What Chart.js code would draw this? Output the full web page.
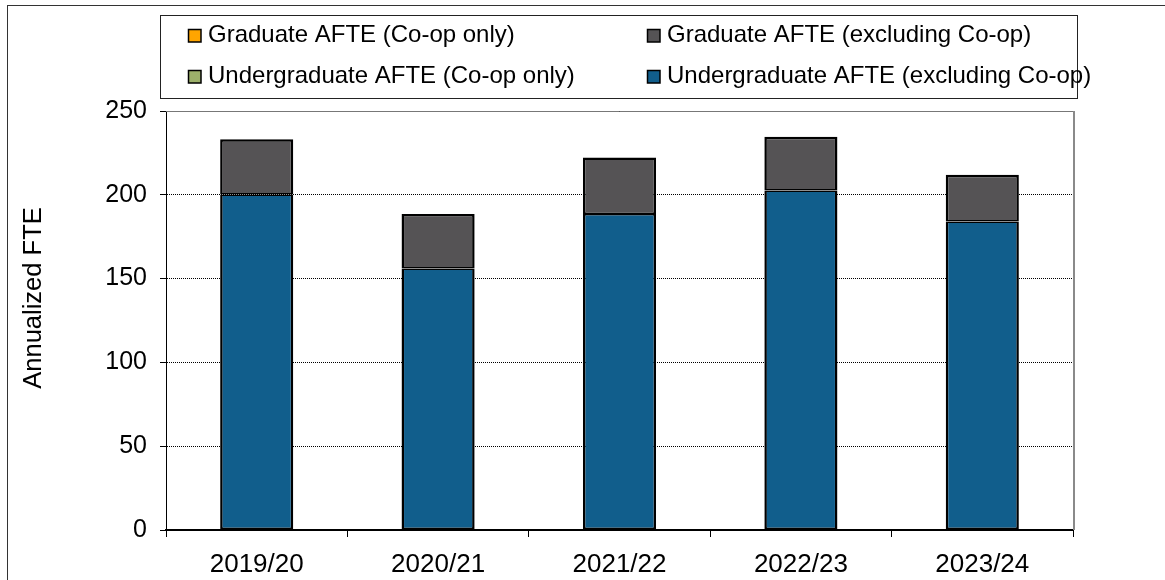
<!DOCTYPE html>
<html><head><meta charset="utf-8">
<script src="https://cdn.jsdelivr.net/npm/chart.js@4/dist/chart.umd.min.js"></script>
<style>html,body{margin:0;padding:0;background:#fff;}canvas{display:block;}</style>
</head><body>
<canvas id="c" width="1165" height="580"></canvas>
<script>
const categories = ['2019/20', '2020/21', '2021/22', '2022/23', '2023/24'];
const undergradExclCoop = [200.2, 156.0, 188.5, 202.6, 184.1];
const undergradCoopOnly = [0, 0, 0, 0, 0];
const gradExclCoop = [32.9, 32.5, 33.7, 32.1, 27.9];
const gradCoopOnly = [0, 0, 0, 0, 0];
const yTicks = [0, 50, 100, 150, 200, 250];
const yAxisTitle = 'Annualized FTE';
const seriesLabels = ['Undergraduate AFTE (excluding Co-op)', 'Undergraduate AFTE (Co-op only)', 'Graduate AFTE (excluding Co-op)', 'Graduate AFTE (Co-op only)'];
const seriesColors = ['#115E8C', '#9CB06A', '#555355', '#FFA500'];

const FONT = "'Liberation Sans', Arial, Helvetica, sans-serif";
// legend grid: rows of dataset indices
const legendRows = [[3, 2], [1, 0]];

const chromePlugin = {
  id: 'chrome',
  beforeDraw(chart) {
    const ctx = chart.ctx;
    ctx.save();
    ctx.fillStyle = '#fff';
    ctx.fillRect(0, 0, chart.width, chart.height);
    ctx.strokeStyle = '#333';
    ctx.lineWidth = 1;
    ctx.strokeRect(7.5, 5.5, chart.width + 20, chart.height + 20);
    ctx.restore();
  },
  afterDraw(chart) {
    const ctx = chart.ctx;
    const a = chart.chartArea;
    ctx.save();
    // plot area top/right border
    ctx.strokeStyle = '#777';
    ctx.lineWidth = 1;
    ctx.beginPath();
    ctx.moveTo(a.left, a.top + 0.5);
    ctx.lineTo(a.right, a.top + 0.5);
    ctx.stroke();
    ctx.lineWidth = 2;
    ctx.strokeStyle = '#8a8a8a';
    ctx.beginPath();
    ctx.moveTo(a.right + 1, a.top);
    ctx.lineTo(a.right + 1, a.bottom);
    ctx.stroke();
    // legend box
    ctx.lineWidth = 1;
    ctx.strokeStyle = '#222';
    ctx.strokeRect(160.5, 15.5, 917, 83);
    const colX = [188, 647];
    const rowY = [35.5, 76.5];
    ctx.font = '24px ' + FONT;
    ctx.textBaseline = 'middle';
    ctx.textAlign = 'left';
    legendRows.forEach((row, r) => {
      row.forEach((di, c) => {
        const ds = chart.data.datasets[di];
        const x = colX[c], y = rowY[r];
        ctx.fillStyle = ds.backgroundColor;
        ctx.fillRect(x, y - 6.5, 13, 13);
        ctx.strokeStyle = '#000';
        ctx.lineWidth = 1.5;
        ctx.strokeRect(x + 0.5, y - 6, 12.5, 12.5);
        ctx.fillStyle = '#000';
        ctx.fillText(ds.label, x + 20, y);
      });
    });
    // y axis title
    ctx.translate(34, 298);
    ctx.rotate(-Math.PI / 2);
    ctx.textAlign = 'center';
    ctx.font = '25.5px ' + FONT;
    ctx.fillStyle = '#000';
    ctx.fillText(yAxisTitle, 0, 0);
    ctx.restore();
  }
};

const borderWidths = [
  { top: 1.5, left: 2.5, right: 2.5, bottom: 2 },
  0,
  { top: 2.5, left: 2.5, right: 2.5, bottom: 1.5 },
  0
];
const seriesData = [undergradExclCoop, undergradCoopOnly, gradExclCoop, gradCoopOnly];
const datasets = seriesData.map((d, i) => ({
  label: seriesLabels[i],
  data: d,
  backgroundColor: seriesColors[i],
  borderColor: '#000',
  borderWidth: borderWidths[i],
  borderSkipped: false,
  categoryPercentage: 1,
  barPercentage: 0.403,
  stack: 's'
}));

new Chart(document.getElementById('c'), {
  type: 'bar',
  data: { labels: categories, datasets },
  options: {
    responsive: false,
    animation: false,
    layout: { padding: { top: 111, right: 92, left: 0, bottom: 0 } },
    plugins: { legend: { display: false }, title: { display: false }, tooltip: { enabled: false } },
    scales: {
      x: {
        stacked: true,
        offset: true,
        grid: { display: true, drawOnChartArea: false, drawTicks: true, tickLength: 7, color: '#000', lineWidth: 1, offset: true },
        border: { display: true, color: '#000', width: 2 },
        ticks: { font: { family: FONT, size: 26 }, color: '#000', padding: 12, maxRotation: 0, autoSkip: false },
        afterFit(s) { s.height = 50; }
      },
      y: {
        stacked: true,
        min: 0,
        max: 250,
        afterBuildTicks(s) { s.ticks = yTicks.map(v => ({ value: v })); },
        grid: { color: '#000', lineWidth: 1, tickLength: 6, drawTicks: true },
        border: { display: true, color: '#000', width: 1, dash: [1, 1] },
        ticks: { font: { family: FONT, size: 25 }, color: '#000', padding: 13 },
        afterFit(s) { s.width = 166; }
      }
    }
  },
  plugins: [chromePlugin]
});
</script>
</body></html>
